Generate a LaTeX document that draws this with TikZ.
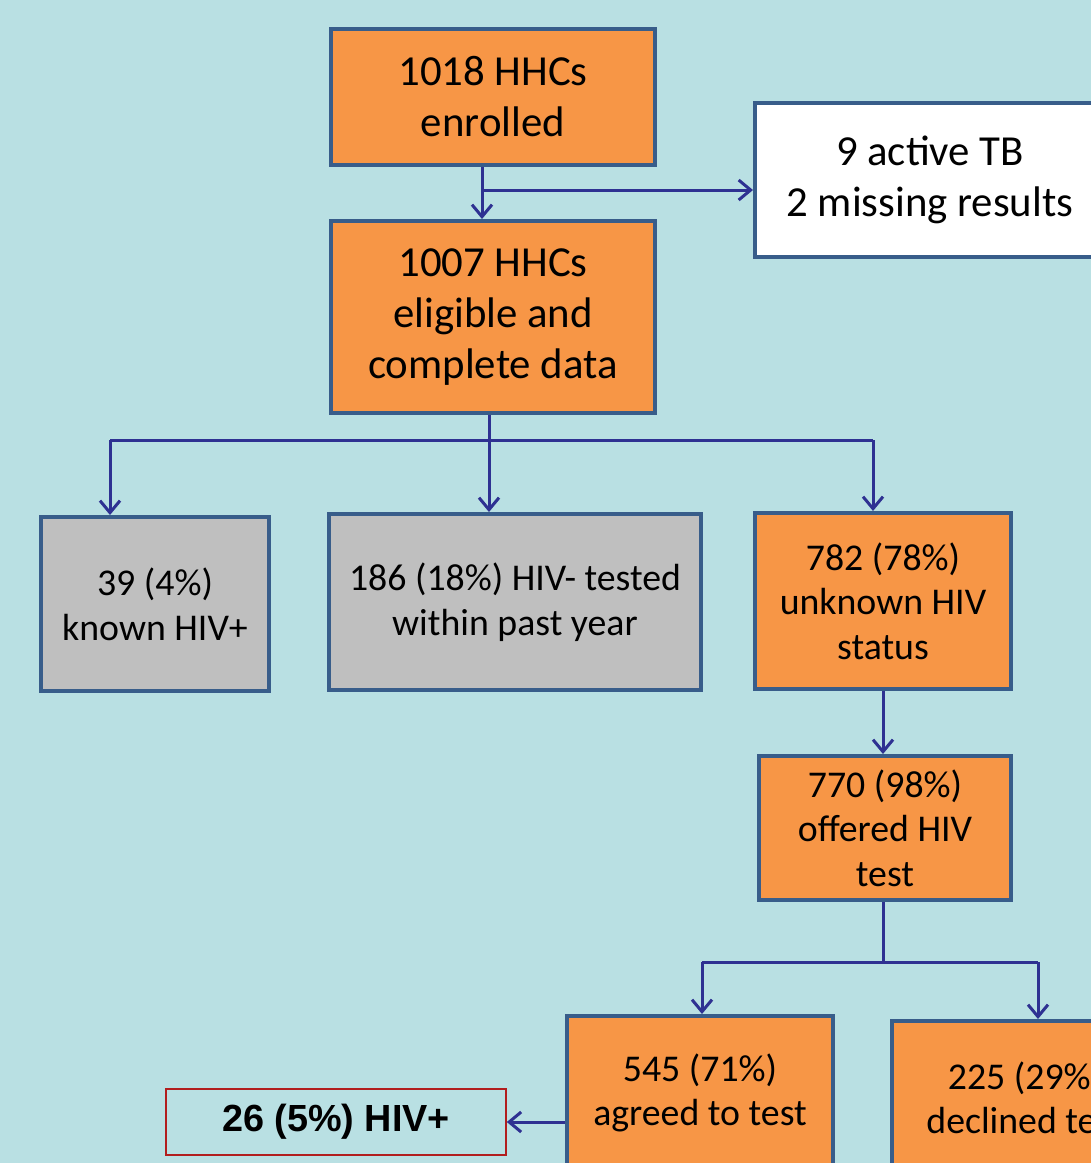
\documentclass[tikz,border=0pt]{standalone}
\usepackage{fontspec}
\setmainfont{Carlito}
\newfontfamily\boldsans{Liberation Sans}
\usepackage{tikz}
\usetikzlibrary{arrows.meta}
\usetikzlibrary{positioning}

\definecolor{bgblue}{RGB}{185,224,227}
\definecolor{boxorange}{RGB}{247,150,70}
\definecolor{boxgray}{RGB}{191,191,191}
\definecolor{boxline}{RGB}{56,93,138}
\definecolor{arrowblue}{RGB}{46,49,146}
\definecolor{darkred}{RGB}{178,30,30}

\begin{document}
\begin{tikzpicture}[x=0.5pt,y=-0.5pt,->,>={Straight Barb[length=6pt,width=10pt]},
    line width=1.5pt,draw=arrowblue]
    \tikzstyle{box}=[rectangle, draw=boxline, line width=2pt, align=center, inner sep=0pt]
    \tikzstyle{bigtext}=[font=\fontsize{21.4}{25.5}\selectfont]
    \tikzstyle{smalltext}=[font=\fontsize{18.9}{22.3}\selectfont]
    \tikzstyle{orange}=[box, fill=boxorange]
    \tikzstyle{gray}=[box, fill=boxgray]
    %\draw[help lines] (0,0) grid (1091,1163);
    \path[-, use as bounding box, fill=bgblue] (0,0) rectangle (1091,1163);
    \clip (0,0) rectangle (1091,1163);

    \node[orange, bigtext, minimum width=162pt, minimum height=68pt] (enrolled) at (493,97) {1018 HHCs\\enrolled};
    \node[orange, bigtext, minimum width=162pt, minimum height=96pt] (eligible) at (493,317) {1007 HHCs\\eligible and\\complete data};
    \node[box, fill=white, bigtext, minimum width=175pt, minimum height=77pt] (tb) at (930,180) {9 active TB\\2 missing results};

    \node[gray, smalltext, minimum width=114pt, minimum height=87pt] (known) at (155,604) {39 (4\%)\\known HIV+};
    \node[gray, smalltext, minimum width=186pt, minimum height=88pt] (tested) at (515,602) {186 (18\%) HIV- tested\\within past year};
    \node[orange, smalltext, minimum width=128pt, minimum height=88pt] (unknown) at (883,601) {782 (78\%)\\unknown HIV\\status};

    \node[orange, smalltext, minimum width=126pt, minimum height=72pt] (offered) at (885,828) {770 (98\%)\\offered HIV\\test};

    \node[orange, smalltext, minimum width=133pt, minimum height=77pt] (agreed) at (700,1093) {545 (71\%)\\agreed to test};
    \node[orange, smalltext, minimum width=133pt, minimum height=77pt] (declined) at (1025,1098) {225 (29\%)\\declined test};
    \node[rectangle, draw=darkred, line width=0.8pt, minimum width=170pt, minimum height=33pt,
        font=\boldsans\bfseries\fontsize{18.9}{22}\selectfont] (hivpos) at (336,1122) {26 (5\%) HIV+};

    \coordinate (s1) at (482,190);
    \coordinate (b1) at (489,440);
    \coordinate (b1l) at (110,440);
    \coordinate (b1r) at (873,440);
    \coordinate (b2) at (883,962);
    \coordinate (b2l) at (702,962);
    \coordinate (b2r) at (1038,962);

    \draw (enrolled.south -| s1) -- (eligible.north -| s1);
    \draw (s1) -- (tb.west |- s1);

    \draw[-] (eligible.south -| b1) -- (b1);
    \draw[-] (b1l) -- (b1r);
    \draw (b1) -- (tested.north -| b1);
    \draw (b1l) -- (known.north -| b1l);
    \draw (b1r) -- (unknown.north -| b1r);

    \draw (unknown.south) -- (unknown.south |- offered.north);

    \draw[-] (offered.south -| b2) -- (b2);
    \draw[-] (b2l) -- (b2r);
    \draw (b2l) -- (agreed.north -| b2l);
    \draw (b2r) -- (declined.north -| b2r);
    \draw (agreed.west |- hivpos) -- (hivpos.east);
\end{tikzpicture}
\end{document}
